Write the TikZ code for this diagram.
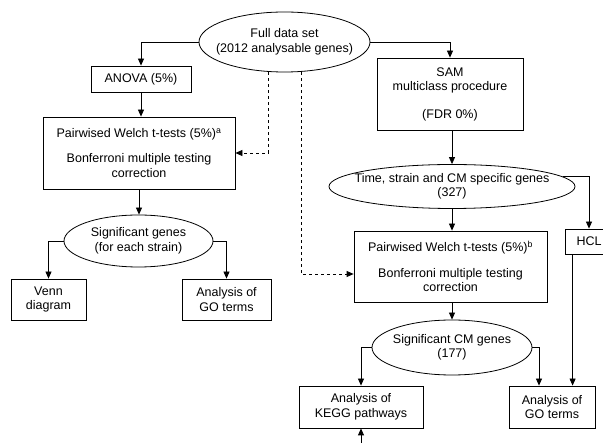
\documentclass[tikz,border=0pt]{standalone}
\usepackage{fontspec}
\setmainfont{Liberation Sans}
\usetikzlibrary{arrows.meta, shapes.geometric}

\begin{document}
\begin{tikzpicture}[x=1pt,y=-1pt,line width=0.8pt,
        font=\fontsize{12.5}{14.5}\selectfont,
        hop/.style={draw,rectangle,align=center,inner sep=0pt},
        elip/.style={draw,ellipse,align=center,inner xsep=-40pt,inner ysep=-15pt},
        mui/.style={-{Triangle[length=7pt,width=6pt]}}]

        \useasboundingbox (0,0) rectangle (603,443);
        \clip (0,0) rectangle (603,443);

        % Nút gốc
        \node[elip,minimum width=171pt,minimum height=60pt] (full) at (284.5,42) {Full data set\\(2012 analysable genes)};

        % Nhánh trái
        \node[hop,minimum width=100pt,minimum height=26pt] (anova) at (141,79) {ANOVA (5\%)};
        \node[hop,minimum width=192pt,minimum height=72pt] (pwa) at (139,153) {Pairwised Welch t-tests (5\%)\textsuperscript{a}\\[11pt]Bonferroni multiple testing\\correction};
        \node[elip,minimum width=149pt,minimum height=52pt] (sig) at (138.5,241) {Significant genes\\(for each strain)};
        \node[hop,minimum width=75pt,minimum height=41pt] (venn) at (48.5,299.5) {Venn\\diagram};
        \node[hop,minimum width=89pt,minimum height=41pt] (goa) at (226.5,299.5) {Analysis of\\GO terms};

        % Nhánh phải
        \node[hop,minimum width=146pt,minimum height=72pt] (sam) at (450,94) {SAM\\multiclass procedure\\[13pt](FDR 0\%)};
        \node[elip,minimum width=246pt,minimum height=44pt] (time) at (452,186.5) {Time, strain and CM specific genes\\(327)};
        \node[hop,minimum width=193pt,minimum height=71pt] (pwb) at (450.5,266.5) {Pairwised Welch t-tests (5\%)\textsuperscript{b}\\[11pt]Bonferroni multiple testing\\correction};
        \node[hop,minimum width=48pt,minimum height=25pt] (hcl) at (589,241.5) {HCL};
        \node[elip,minimum width=160pt,minimum height=55pt] (cm) at (452,347.5) {Significant CM genes\\(177)};
        \node[hop,minimum width=124pt,minimum height=42pt] (kegg) at (361,407) {Analysis of\\KEGG pathways};
        \node[hop,minimum width=86pt,minimum height=42pt] (gob) at (552,407) {Analysis of\\GO terms};
        \coordinate (duoi) at (361,452); % Mũi tên từ dưới lên

        % Mũi tên nhánh trái
        \draw[mui] (full.west) -| (anova.north);
        \draw[mui] (anova.south) -- (anova.south |- pwa.north);
        \draw[mui] (pwa.south) -- (pwa.south |- sig.north);
        \draw[mui] (sig.west) -| (venn.north);
        \draw[mui] (sig.east) -| (goa.north);

        % Mũi tên nét đứt
        \draw[mui,dashed] ([xshift=-16.5pt]full.south) |- (pwa.east);
        \draw[mui,dashed] ([xshift=16.5pt]full.south) |- ([yshift=-7.5pt]pwb.west);

        % Mũi tên nhánh phải
        \draw[mui] (full.east) -| (sam.north);
        \draw[mui] (time.north |- sam.south) -- (time.north);
        \draw[mui] (time.south) -- (time.south |- pwb.north);
        \draw[mui] (time.5) -| (hcl.north);
        \draw[mui] ([xshift=8pt]hcl.south west) -- ([xshift=8pt]hcl.south west |- gob.north);
        \draw[mui] (cm.north |- pwb.south) -- (cm.north);
        \draw[mui] (cm.west) -| (kegg.north);
        \draw[mui] (cm.east) -| ([xshift=-13pt]gob.north);
        \draw[mui] (duoi) -- (kegg.south);

\end{tikzpicture}
\end{document}
